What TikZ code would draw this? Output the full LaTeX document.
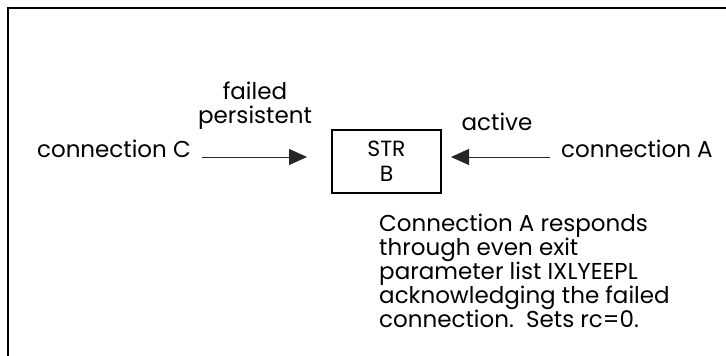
\documentclass[tikz,border=0pt]{standalone}
\usepackage{fontspec}
\setmainfont{Poppins}
\usetikzlibrary{positioning, arrows.meta}

\begin{document}
\begin{tikzpicture}[x=1pt, y=-1pt,
        lbl/.style={font=\fontsize{23}{24}\selectfont, inner sep=0pt},
        strbox/.style={draw, line width=2pt, minimum width=109pt, minimum height=63pt,
            align=center, inner sep=0pt, font=\fontsize{22}{25}\selectfont},
        flow/.style={draw=black!85, line width=1pt, -{Triangle[length=18pt, width=16pt]}},
    ]
    \useasboundingbox (0,0) rectangle (726,356);
    % frame (cut off at right and bottom)
    \draw[line width=2.5pt] (8,357) -- (8,8) -- (727,8);

    \node[strbox] (strb) at (386.5,161) {STR\\B};
    \node[lbl, anchor=base east] (connC) at (191,157) {connection C};
    \node[lbl, anchor=base west] (connA) at (561,157) {connection A};
    \node[lbl, align=center] (failed) at (255,106) {failed\\persistent};
    \node[lbl, anchor=base] (active) at (497,130) {active};
    \node[lbl, align=left, anchor=north west] (note) at (379,214)
        {Connection A responds\\through even exit\\parameter list IXLYEEPL\\acknowledging the failed\\connection.\ \ Sets rc=0.};

    \draw[flow, shorten >=24pt] ([xshift=11pt]connC.base east) -- (connC.base -| strb.west);
    \draw[flow, shorten >=9pt] ([xshift=-11pt]connA.base west) -- (connA.base -| strb.east);
\end{tikzpicture}
\end{document}
